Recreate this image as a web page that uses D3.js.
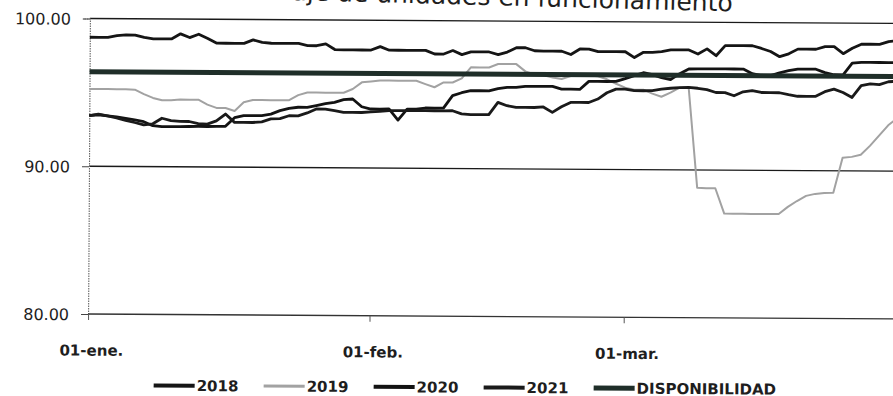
<!DOCTYPE html>
<html>
<head>
<meta charset="utf-8">
<script src="https://cdn.jsdelivr.net/npm/d3@7"></script>
<style>
  html, body { margin: 0; padding: 0; background: #fff; overflow: hidden; }
  svg { display: block; }
</style>
</head>
<body>
<svg id="chart" width="893" height="396"></svg>
<script>
// ---- data -------------------------------------------------------------
const title = "Porcentaje de unidades en funcionamiento";
const startDay = "2021-01-01";
const endDay = "2021-03-31";
const xTickDates = ["2021-01-01", "2021-02-01", "2021-03-01"];
const xTickLabels = ["01-ene.", "01-feb.", "01-mar."];
const yTicks = [80, 90, 100];
const yGrid = [90, 100];
const legendNames = ["2018", "2019", "2020", "2021", "DISPONIBILIDAD"];

// daily availability (%) from 01-ene to 31-mar
const v2018 = [
  98.73, 98.73, 98.73, 98.85, 98.90, 98.90, 98.75, 98.65, 98.65, 98.65,
  99.00, 98.75, 98.98, 98.70, 98.38, 98.38, 98.38, 98.38, 98.62, 98.45,
  98.40, 98.40, 98.40, 98.40, 98.26, 98.25, 98.38, 98.00, 97.98, 97.98,
  97.98, 97.98, 98.22, 97.98, 97.98, 97.98, 97.98, 97.98, 97.74, 97.74,
  97.98, 97.71, 97.90, 97.90, 97.90, 97.72, 97.90, 98.20, 98.20, 98.00,
  97.98, 97.98, 97.98, 97.76, 98.14, 98.14, 97.97, 97.97, 97.97, 97.97,
  97.58, 97.94, 97.94, 98.00, 98.12, 98.12, 98.12, 97.85, 98.20, 97.74,
  98.43, 98.43, 98.43, 98.43, 98.25, 98.05, 97.70, 97.90, 98.22, 98.22,
  98.22, 98.40, 98.40, 97.93, 98.30, 98.58, 98.58, 98.58, 98.77, 98.83
];
const v2019 = [
  95.23, 95.23, 95.23, 95.23, 95.23, 95.20, 94.90, 94.65, 94.50, 94.50,
  94.55, 94.55, 94.55, 94.22, 94.00, 94.00, 93.80, 94.40, 94.55, 94.55,
  94.55, 94.55, 94.55, 94.90, 95.08, 95.08, 95.08, 95.08, 95.08, 95.34,
  95.79, 95.85, 95.92, 95.92, 95.92, 95.92, 95.92, 95.70, 95.49, 95.82,
  95.82, 96.10, 96.85, 96.85, 96.85, 97.09, 97.09, 97.09, 96.60, 96.40,
  96.35, 96.20, 96.10, 96.30, 96.35, 96.35, 96.30, 96.10, 95.80, 95.54,
  95.41, 95.41, 95.15, 94.94, 95.22, 95.56, 95.56, 88.80, 88.77, 88.77,
  87.06, 87.05, 87.05, 87.05, 87.05, 87.05, 87.05, 87.54, 87.94, 88.29,
  88.43, 88.50, 88.52, 90.88, 90.95, 91.10, 91.70, 92.40, 93.10, 93.60
];
const v2020 = [
  93.42, 93.49, 93.42, 93.36, 93.25, 93.15, 93.04, 92.77, 92.71, 92.71,
  92.72, 92.73, 92.74, 92.74, 92.75, 92.76, 93.35, 93.49, 93.49, 93.50,
  93.60, 93.84, 94.00, 94.08, 94.07, 94.20, 94.33, 94.43, 94.61, 94.66,
  94.14, 93.99, 93.99, 94.00, 93.25, 94.00, 94.00, 94.08, 94.08, 94.08,
  94.93, 95.13, 95.27, 95.27, 95.27, 95.42, 95.51, 95.51, 95.59, 95.59,
  95.60, 95.60, 95.42, 95.42, 95.40, 95.95, 95.95, 95.95, 95.96, 96.15,
  96.36, 96.56, 96.43, 96.23, 96.10, 96.51, 96.83, 96.84, 96.84, 96.85,
  96.85, 96.85, 96.85, 96.54, 96.41, 96.41, 96.60, 96.76, 96.87, 96.87,
  96.87, 96.64, 96.50, 96.50, 97.29, 97.35, 97.35, 97.35, 97.35, 97.34
];
const v2021 = [
  93.42, 93.53, 93.42, 93.29, 93.12, 92.98, 92.83, 92.90, 93.28, 93.12,
  93.07, 93.07, 92.93, 92.90, 93.12, 93.59, 93.03, 93.03, 93.03, 93.08,
  93.28, 93.30, 93.50, 93.50, 93.70, 93.97, 93.97, 93.86, 93.75, 93.75,
  93.75, 93.80, 93.84, 93.89, 93.89, 93.89, 93.90, 93.90, 93.90, 93.90,
  93.91, 93.70, 93.65, 93.65, 93.66, 94.49, 94.27, 94.16, 94.16, 94.16,
  94.20, 93.84, 94.22, 94.52, 94.52, 94.52, 94.76, 95.19, 95.44, 95.44,
  95.34, 95.34, 95.35, 95.45, 95.52, 95.56, 95.59, 95.53, 95.44, 95.25,
  95.25, 95.04, 95.31, 95.39, 95.27, 95.27, 95.26, 95.13, 95.03, 95.03,
  95.03, 95.35, 95.53, 95.30, 94.97, 95.78, 95.90, 95.85, 96.05, 96.09
];
// target availability, constant over the period
const dispDates = [startDay, endDay];
const dispValues = [96.4, 96.4];

// ---- setup ------------------------------------------------------------
const parse = d3.utcParse("%Y-%m-%d");
const days = d3.utcDay.range(parse(startDay), d3.utcDay.offset(parse(endDay), 1));

const svg = d3.select("#chart");
const FONT = "'DejaVu Sans', sans-serif";
const INK = "#1e1e1e";

const x = d3.scaleUtc().domain([parse(startDay), parse(endDay)]).range([89, 897]);
const y = d3.scaleLinear().domain([80, 100]).range([314, 18.5]);

// title (upper part runs off the top edge of the page)
svg.append("text")
  .attr("x", 465).attr("y", 4.5)
  .attr("text-anchor", "middle")
  .attr("transform", "rotate(1.5, 465, 4.5)")
  .style("font-family", FONT).style("font-size", "25px")
  .attr("fill", INK)
  .text(title);

// the whole chart sits slightly skewed on the page
const g = svg.append("g").attr("transform", "rotate(0.35, 89, 166)");

// horizontal gridlines
g.selectAll("line.grid").data(yGrid).join("line")
  .attr("class", "grid")
  .attr("x1", 89).attr("x2", 905)
  .attr("y1", d => y(d)).attr("y2", d => y(d))
  .attr("stroke", "#1a1a1a").attr("stroke-width", 1.3);

// y axis
const yAxis = g.append("g").attr("transform", "translate(89,0)")
  .call(d3.axisLeft(y).tickValues(yTicks).tickSize(7).tickPadding(12)
    .tickFormat(d3.format(".2f")));
yAxis.select(".domain").attr("stroke", "#666").attr("stroke-width", 1.1)
  .attr("stroke-dasharray", "1.5,1");
yAxis.selectAll(".tick line").attr("stroke", "#444");
yAxis.selectAll(".tick text")
  .style("font-family", FONT).style("font-size", "16px")
  .attr("fill", INK).attr("dy", "0.36em");

// x axis
const xAxis = g.append("g").attr("transform", `translate(0,${y(80)})`)
  .call(d3.axisBottom(x).tickValues(xTickDates.map(parse)).tickSize(6)
    .tickFormat((d, i) => xTickLabels[i]));
xAxis.select(".domain").attr("stroke", "#333").attr("stroke-width", 1.3)
  .attr("d", `M89,0H905`);
xAxis.selectAll(".tick line").attr("stroke", "#555");
xAxis.selectAll(".tick text")
  .style("font-family", FONT).style("font-size", "15px").style("font-weight", "bold")
  .attr("fill", INK).attr("y", 31).attr("dy", "0.71em")
  .attr("dx", 3);

// series
const line = d3.line().x(d => x(d[0])).y(d => y(d[1]));
const series = [
  { name: "2018", values: v2018, color: "#151515", width: 2.8 },
  { name: "2019", values: v2019, color: "#a2a2a2", width: 2.0 },
  { name: "2020", values: v2020, color: "#131313", width: 2.8 },
  { name: "2021", values: v2021, color: "#1a1a1a", width: 2.8 }
];
series.forEach(s => {
  g.append("path")
    .datum(days.map((d, i) => [d, s.values[i]]))
    .attr("fill", "none")
    .attr("stroke", s.color)
    .attr("stroke-width", s.width)
    .attr("stroke-linejoin", "round")
    .attr("d", line);
});
g.append("path")
  .datum(dispDates.map((d, i) => [parse(d), dispValues[i]]))
  .attr("fill", "none")
  .attr("stroke", "#1f2e29")
  .attr("stroke-width", 5)
  .attr("d", line);

// legend
const legendStyle = [
  { color: "#151515", width: 4 },
  { color: "#a2a2a2", width: 3 },
  { color: "#131313", width: 4 },
  { color: "#1a1a1a", width: 4 },
  { color: "#1f2e29", width: 5 }
];
const legend = g.append("g").attr("transform", "translate(155,385)");
const items = legend.selectAll("g").data(legendNames).join("g")
  .attr("transform", (d, i) => `translate(${i * 110},0)`);
items.append("line")
  .attr("x1", 0).attr("x2", 41).attr("y1", 0).attr("y2", 0)
  .attr("stroke", (d, i) => legendStyle[i].color)
  .attr("stroke-width", (d, i) => legendStyle[i].width);
items.append("text")
  .attr("x", 43).attr("y", 0).attr("dy", "0.36em")
  .style("font-family", FONT).style("font-size", "15px").style("font-weight", "bold")
  .attr("fill", INK)
  .text(d => d);
</script>
</body>
</html>
